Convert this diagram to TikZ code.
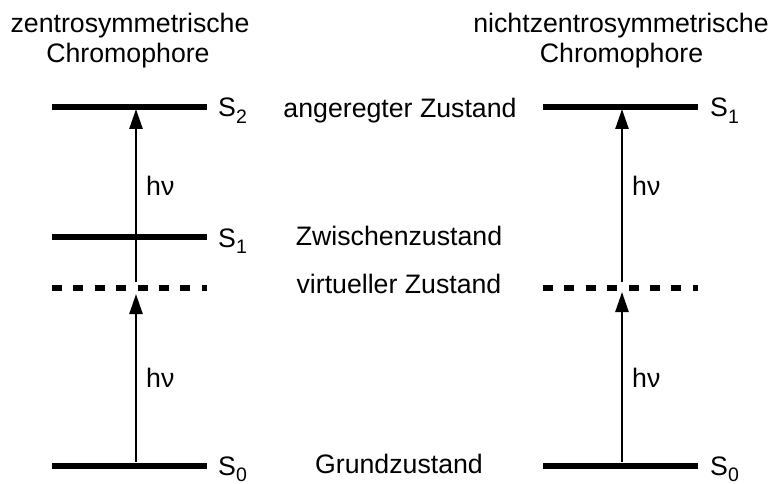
\documentclass[tikz,border=0pt]{standalone}
\usepackage{fontspec}
\setmainfont{Liberation Sans}
\usetikzlibrary{arrows.meta}
\newcommand{\sublab}[2]{#1\raisebox{-6.5pt}[0pt][0pt]{\fontsize{19.5}{20}\selectfont #2}}
\tikzset{
  level/.style={line width=5.7pt},
  virt/.style={line width=5.7pt, dash pattern=on 10pt off 11.4pt},
  photon/.style={line width=2.5pt, -{Triangle[length=20pt,width=13pt]}},
  txt/.style={inner sep=0pt, font=\fontsize{26.7}{32}\selectfont},
}
\begin{document}
\begin{tikzpicture}[x=1pt,y=-1pt]
\useasboundingbox (0,0) rectangle (774,484);
% titles
\node[txt,anchor=base] (tl1) at (130,33) {zentrosymmetrische};
\node[txt,anchor=base] (tl2) at (128,63) {Chromophore};
\node[txt,anchor=base] (tr1) at (621,33) {nichtzentrosymmetrische};
\node[txt,anchor=base] (tr2) at (621.5,63) {Chromophore};
% left levels
\coordinate (LS2a) at (52,107); \coordinate (LS2b) at (207,107);
\coordinate (LS1a) at (52,237); \coordinate (LS1b) at (207,237);
\coordinate (LVa) at (52,288); \coordinate (LVb) at (207,288);
\coordinate (LS0a) at (52,466); \coordinate (LS0b) at (207,466);
\draw[level] (LS2a) -- (LS2b);
\draw[level] (LS1a) -- (LS1b);
\draw[virt] (LVa) -- (LVb);
\draw[level] (LS0a) -- (LS0b);
% right levels
\coordinate (RS1a) at (543,107); \coordinate (RS1b) at (698,107);
\coordinate (RVa) at (543,288); \coordinate (RVb) at (698,288);
\coordinate (RS0a) at (543,466); \coordinate (RS0b) at (698,466);
\draw[level] (RS1a) -- (RS1b);
\draw[virt] (RVa) -- (RVb);
\draw[level] (RS0a) -- (RS0b);
% arrows left
\coordinate (La0) at (136,462); \coordinate (La1) at (136,294);
\coordinate (La2) at (136,282); \coordinate (La3) at (136,109);
\draw[photon] (La0) -- (La1);
\draw[photon] (La2) -- (La3);
% arrows right
\coordinate (Ra0) at (622,462); \coordinate (Ra1) at (622,292);
\coordinate (Ra2) at (622,282); \coordinate (Ra3) at (622,109);
\draw[photon] (Ra0) -- (Ra1);
\draw[photon] (Ra2) -- (Ra3);
% hv labels
\node[txt,anchor=base west] (hl1) at (146,195) {hν};
\node[txt,anchor=base west] (hl2) at (146,387) {hν};
\node[txt,anchor=base west] (hr1) at (632,195) {hν};
\node[txt,anchor=base west] (hr2) at (632,387) {hν};
% state labels
\node[txt,anchor=base west] (sl2) at (218,117) {\sublab{S}{2}};
\node[txt,anchor=base west] (sl1) at (218,247) {\sublab{S}{1}};
\node[txt,anchor=base west] (sl0) at (218,475) {\sublab{S}{0}};
\node[txt,anchor=base west] (sr1) at (710,117) {\sublab{S}{1}};
\node[txt,anchor=base west] (sr0) at (710,475) {\sublab{S}{0}};
% middle labels
\node[txt,anchor=base] (m1) at (400,118) {angeregter Zustand};
\node[txt,anchor=base] (m2) at (399,245) {Zwischenzustand};
\node[txt,anchor=base] (m3) at (399,293) {virtueller Zustand};
\node[txt,anchor=base] (m4) at (399,473) {Grundzustand};
\end{tikzpicture}
\end{document}
